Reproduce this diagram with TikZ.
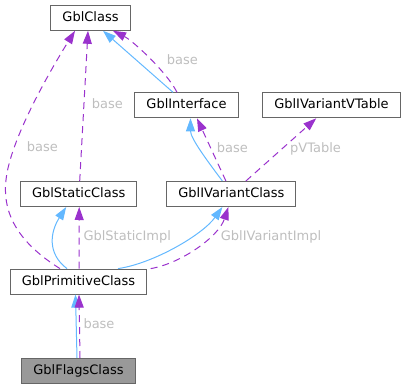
\documentclass[tikz,border=0pt]{standalone}
\usepackage{fontspec}
\setmainfont{DejaVu Sans}
\usepackage{tikz}
\usetikzlibrary{arrows.meta, positioning, calc}
\definecolor{dxblue}{RGB}{99,184,255}
\definecolor{dxpurple}{RGB}{154,50,205}
\definecolor{dxframe}{RGB}{102,102,102}
\definecolor{dxlabel}{RGB}{190,190,190}
\definecolor{dxcurrent}{RGB}{153,153,153}
\tikzset{
  classbox/.style={rectangle, draw=dxframe, fill=white,
    minimum height=25pt, inner xsep=11.5pt, inner ysep=0pt,
    text height=9.5pt, text depth=2.5pt,
    font=\fontsize{13}{15}\selectfont, line width=1pt},
  curbox/.style={classbox, fill=dxcurrent},
  inherit/.style={-{Triangle[length=13pt,width=9pt]}, line width=1pt, color=dxblue},
  usage/.style={-{Triangle[length=13pt,width=9pt]}, line width=1pt, color=dxpurple,
    dash pattern=on 7pt off 5pt},
  elabel/.style={anchor=west, inner sep=0pt, text height=9.5pt, text depth=2.5pt,
    font=\fontsize{13}{15}\selectfont, text=dxlabel}
}

\begin{document}
\begin{tikzpicture}[x=1pt, y=-1pt]
  \useasboundingbox (0,0) rectangle (405,388);

  % ── Class boxes ─────────────────────────────────────────────────────────
  \node[classbox] (gclass) at (90.5,17.8) {GblClass};
  \node[classbox] (iface)  at (186.5,105.3) {GblInterface};
  \node[classbox, right=23.7pt of iface] (vtable) {GblIVariantVTable};
  \node[classbox] (static) at (78.7,194) {GblStaticClass};
  \node[classbox, right=29pt of static] (ivar) {GblIVariantClass};
  \node[classbox] (prim)   at (78.5,281.6) {GblPrimitiveClass};
  \node[curbox, below=63.4pt of prim] (flags) {GblFlagsClass};

  % ── GblInterface → GblClass ─────────────────────────────────────────────
  \draw[inherit] ($(iface.north)+(-13.5,0)$) -- ($(gclass.south)+(12.5,0)$);
  \draw[usage] ($(iface.north)+(-9.5,0)$) .. controls +(-10,-20) and +(20,10) .. ($(gclass.south)+(22.5,0)$);
  \node[elabel] (lbase1) at (166.7,61) {base};

  % ── GblStaticClass → GblClass ───────────────────────────────────────────
  \draw[usage] ($(static.north)+(1,0)$) -- ($(gclass.south)+(-2.5,0)$);
  \node[elabel] (lbase2) at (91.7,105) {base};

  % ── GblPrimitiveClass → GblClass (round the left side) ──────────────────
  \coordinate (pbend) at (6,180);
  \draw[usage] ($(prim.north)+(-18.5,0)$) .. controls +(-40,-25) and +(-4,35) .. (pbend)
    .. controls +(4,-40) and +(-25,40) .. ($(gclass.south)+(-15.5,0)$);
  \node[elabel] (lbase3) at (26.7,148) {base};

  % ── GblIVariantClass → GblInterface / VTable ────────────────────────────
  \draw[inherit] ($(ivar.north)+(-9,0)$) .. controls +(-15,-20) and +(0,20) .. ($(iface.south)+(4,0)$);
  \draw[usage] ($(ivar.north)+(-5.5,0)$) -- ($(iface.south)+(10.5,0)$);
  \node[elabel] (lbase4) at (216.7,149) {base};
  \draw[usage] ($(ivar.north)+(14.5,0)$) -- ($(vtable.south west)+(54,0)$);
  \node[elabel] (lvtable) at (290,149) {pVTable};

  % ── GblPrimitiveClass → GblStaticClass ──────────────────────────────────
  \draw[inherit] ($(prim.north)+(-11.5,0)$) .. controls +(-20,-15) and +(-16,25) .. ($(static.south)+(-12.5,0)$);
  \draw[usage] ($(prim.north)+(0.5,0)$) -- ($(static.south)+(0.5,0)$);
  \node[elabel] (lstatic) at (83.3,237) {GblStaticImpl};

  % ── GblPrimitiveClass → GblIVariantClass ────────────────────────────────
  \draw[inherit] ($(prim.north)+(39.5,0)$) .. controls +(35,-5) and +(-20,28) .. ($(ivar.south)+(-9,0)$);
  \draw[usage] ($(prim.north east)+(3.5,0)$) .. controls +(30,-5) and +(-10,30) .. ($(ivar.south)+(-3,0)$);
  \node[elabel] (livar) at (220.7,237) {GblIVariantImpl};

  % ── GblFlagsClass → GblPrimitiveClass ───────────────────────────────────
  \draw[inherit] ($(flags.north)+(-1.5,0)$) -- ($(prim.south)+(-3,0)$);
  \draw[usage] ($(flags.north)+(1.5,0)$) -- ($(prim.south)+(0.5,0)$);
  \node[elabel] (lbase5) at (83.3,325) {base};
\end{tikzpicture}
\end{document}
